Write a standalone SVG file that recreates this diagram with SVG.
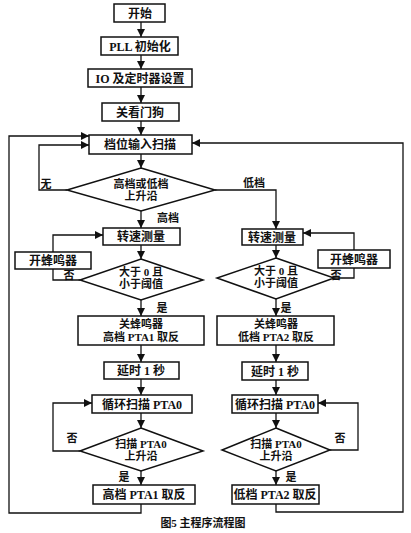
<svg xmlns="http://www.w3.org/2000/svg" width="411" height="533" viewBox="0 0 411 533">
<defs>
<marker id="ah" viewBox="0 0 10 10" refX="10" refY="5" markerWidth="8" markerHeight="8" markerUnits="userSpaceOnUse" orient="auto">
<path d="M0,0 L10,5 L0,10 z" fill="#111"/>
</marker>
<style>
.b{fill:#fff;stroke:#111;stroke-width:1.5}
.c{fill:none;stroke:#111;stroke-width:1.3}
.a{marker-end:url(#ah)}
text{font-family:"Liberation Serif","Noto Sans CJK SC",serif;font-size:12px;font-weight:bold;fill:#111;text-anchor:middle}
.t{font-size:11px}
.l{font-size:11px}
.cap{font-size:11px}
</style>
</defs>
<rect width="411" height="533" fill="#fff"/>
<g id="connectors">
<path class="c a" d="M141,22 V37"/>
<path class="c a" d="M141,55 V69"/>
<path class="c a" d="M141,87 V103"/>
<path class="c a" d="M141,121 V135"/>
<path class="c a" d="M141,154 V168"/>
<path class="c a" d="M141,211 V228"/>
<path class="c a" d="M141,245 V259"/>
<path class="c a" d="M141,300 V316"/>
<path class="c a" d="M141,345 V362"/>
<path class="c a" d="M141,379 V395"/>
<path class="c a" d="M141,413 V428"/>
<path class="c a" d="M141,471 V485"/>
<path class="c a" d="M67,190 H39 V145 H89"/>
<path class="c a" d="M215,190 H276 V229"/>
<path class="c a" d="M276,245 V258"/>
<path class="c a" d="M276,299 V316"/>
<path class="c a" d="M276,345 V362"/>
<path class="c a" d="M276,380 V395"/>
<path class="c a" d="M276,413 V428"/>
<path class="c a" d="M276,471 V485"/>
<path class="c a" d="M80,280 H53 V235 H103"/>
<path class="c a" d="M334,278 H354 V233 H303"/>
<path class="c a" d="M80,451 H53 V403 H92"/>
<path class="c a" d="M330,450 H358 V403 H318"/>
<path class="c a" d="M141,504 V513 H9 V136 H89"/>
<path class="c a" d="M276,504 V512 H403 V143 H192"/>
</g>
<g id="start"><rect class="b" x="114" y="4" width="51" height="18"/><text x="140" y="17.5">开始</text></g>
<g id="pll"><rect class="b" x="101" y="37" width="77" height="18"/><text x="140" y="50.5">PLL  初始化</text></g>
<g id="io"><rect class="b" x="88" y="69" width="104" height="18"/><text x="140" y="82.5">IO 及定时器设置</text></g>
<g id="wdog"><rect class="b" x="102" y="103" width="77" height="18"/><text x="140" y="116.5">关看门狗</text></g>
<g id="scan"><rect class="b" x="89" y="135" width="103" height="19"/><text x="140" y="149">档位输入扫描</text></g>
<g id="d1"><polygon class="b" points="141,168 215,190 141,211 67,190"/><text class="t" x="141" y="188">高档或低档</text><text class="t" x="141" y="200">上升沿</text></g>
<g id="speedL"><rect class="b" x="103" y="228" width="77" height="17"/><text x="141" y="241">转速测量</text></g>
<g id="speedR"><rect class="b" x="242" y="229" width="61" height="16"/><text x="272" y="241.5">转速测量</text></g>
<g id="buzzL"><rect class="b" x="15" y="252" width="76" height="17"/><text x="53" y="265">开蜂鸣器</text></g>
<g id="buzzR"><rect class="b" x="318" y="250" width="72" height="18"/><text x="354" y="263.5">开蜂鸣器</text></g>
<g id="d2L"><polygon class="b" points="141,259 203,280 141,300 80,280"/><text class="t" x="141" y="276">大于 0 且</text><text class="t" x="141" y="288">小于阈值</text></g>
<g id="d2R"><polygon class="b" points="276,258 334,278 276,299 217,278"/><text class="t" x="276" y="275">大于 0 且</text><text class="t" x="276" y="287">小于阈值</text></g>
<g id="offL"><rect class="b" x="78" y="316" width="126" height="29"/><text class="t" x="141" y="328">关蜂鸣器</text><text class="t" x="141" y="341">高档 PTA1 取反</text></g>
<g id="offR"><rect class="b" x="217" y="316" width="117" height="29"/><text class="t" x="276" y="328">关蜂鸣器</text><text class="t" x="276" y="341">低档 PTA2 取反</text></g>
<g id="delayL"><rect class="b" x="104" y="362" width="75" height="17"/><text x="141" y="375">延时 1 秒</text></g>
<g id="delayR"><rect class="b" x="242" y="362" width="66" height="18"/><text x="275" y="375.5">延时 1 秒</text></g>
<g id="loopL"><rect class="b" x="92" y="395" width="100" height="18"/><text x="142" y="408.5">循环扫描 PTA0</text></g>
<g id="loopR"><rect class="b" x="232" y="395" width="86" height="18"/><text x="275" y="408.5">循环扫描 PTA0</text></g>
<g id="d3L"><polygon class="b" points="141,428 203,451 141,471 80,451"/><text class="t" x="141" y="448">扫描 PTA0</text><text class="t" x="141" y="460">上升沿</text></g>
<g id="d3R"><polygon class="b" points="276,428 330,450 276,471 222,450"/><text class="t" x="276" y="448">扫描 PTA0</text><text class="t" x="276" y="460">上升沿</text></g>
<g id="invL"><rect class="b" x="93" y="485" width="102" height="19"/><text x="144" y="499">高档 PTA1 取反</text></g>
<g id="invR"><rect class="b" x="232" y="485" width="87" height="19"/><text x="275" y="499">低档 PTA2 取反</text></g>
<g id="labels">
<text class="l" x="46" y="188">无</text>
<text class="l" x="254" y="187">低档</text>
<text class="l" x="168" y="222">高档</text>
<text class="l" x="69" y="279">否</text>
<text class="l" x="336" y="279">否</text>
<text class="l" x="162" y="312">是</text>
<text class="l" x="286" y="312">是</text>
<text class="l" x="72" y="442">否</text>
<text class="l" x="340" y="442">否</text>
<text class="l" x="124" y="481">是</text>
<text class="l" x="291" y="481">是</text>
</g>
<text class="cap" x="203" y="527">图5  主程序流程图</text>
</svg>
